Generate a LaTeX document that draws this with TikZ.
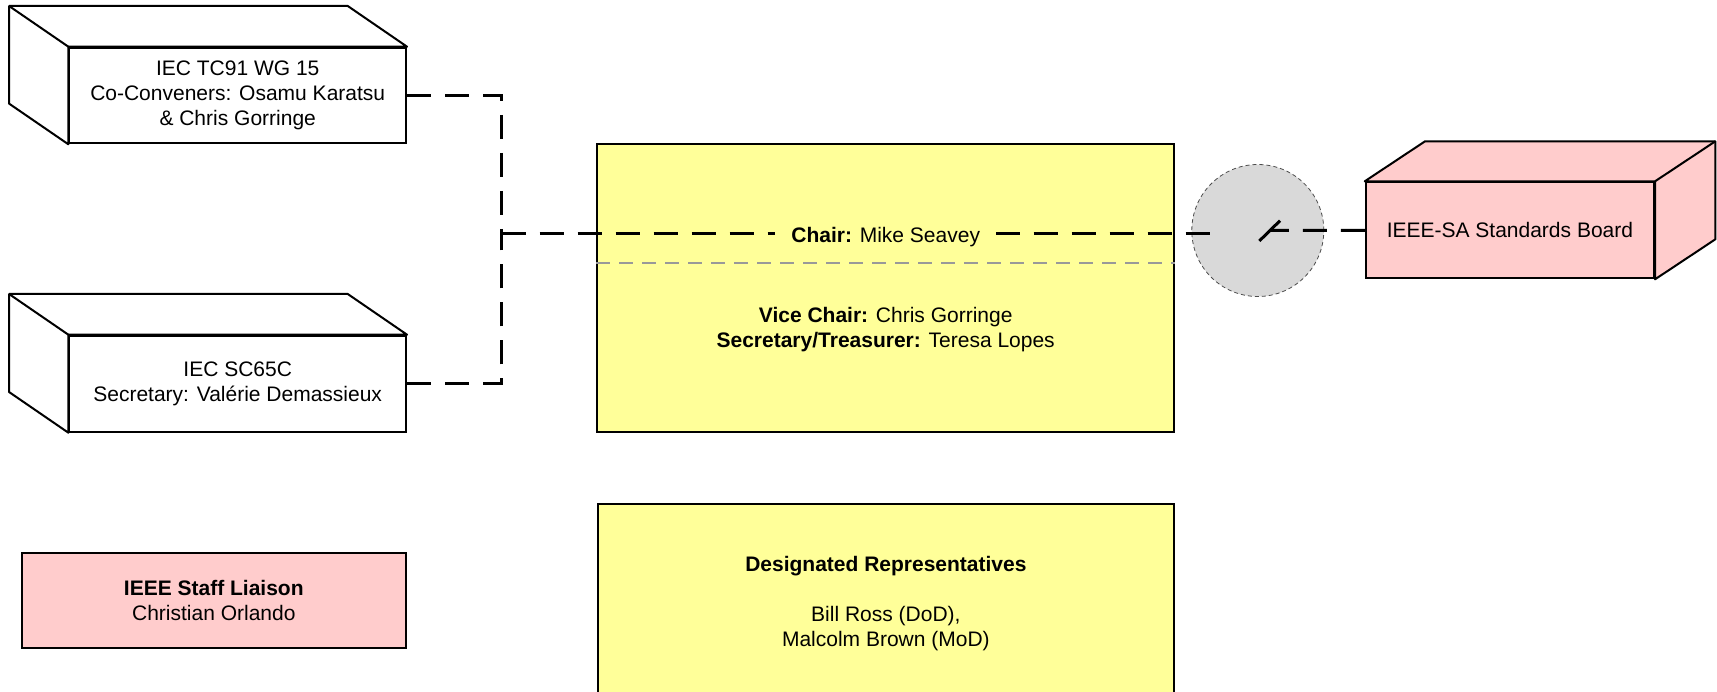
\documentclass[tikz,border=0pt]{standalone}
\usepackage{fontspec}
\setmainfont{Liberation Sans}
\usepackage{tikz}

\definecolor{chairyellow}{HTML}{FFFF99}
\definecolor{boardpink}{HTML}{FFCCCC}

\begin{document}
\begin{tikzpicture}[x=1pt,y=-1pt,
		font=\fontsize{21}{25}\selectfont,
		edgeline/.style={line width=2pt,line join=round},
		link/.style={line width=3pt,dash pattern=on 24pt off 14pt}]
	\useasboundingbox (0,0) rectangle (1717,692);
	\begin{scope}[every node/.style={rectangle,draw,line width=2pt,align=center,inner sep=0pt}]
		\node[fill=white,minimum width=336.7pt,minimum height=95.6pt] (tc91) at (237.7,95.5) {IEC TC91 WG 15\\Co-Conveners: Osamu Karatsu\\\& Chris Gorringe};
		\node[fill=white,minimum width=336.7pt,minimum height=96pt] (sc65) at (237.7,383.7) {IEC SC65C\\Secretary: Valérie Demassieux};
		\node[fill=boardpink,minimum width=384.3pt,minimum height=95.6pt] (staff) at (213.8,600.5) {\textbf{IEEE Staff Liaison}\\Christian Orlando};
		\node[fill=chairyellow,minimum width=576.7pt,minimum height=287.7pt] (chair) at (885.7,287.9) {};
		\node[fill=chairyellow,minimum width=576.2pt,minimum height=200pt] (reps) at (885.9,604) {\textbf{Designated Representatives}\\[25pt]Bill Ross (DoD),\\Malcolm Brown (MoD)};
		\node[fill=boardpink,minimum width=288.3pt,minimum height=96pt] (board) at (1509.9,230.3) {IEEE-SA Standards Board};
	\end{scope}
	\foreach \b in {tc91,sc65}{
		\draw[edgeline,fill=white] (\b.south west) -- ++(-59.3,-40.7) |- ([shift={(-59.3,-40.7)}]\b.north east) -- (\b.north east) -- (\b.north west) -- cycle;
		\draw[edgeline] (\b.north west) -- ++(-59.3,-40.7);
	}
	\draw[edgeline,fill=boardpink] (board.north west) -- ++(60.3,-40) -| ([shift={(60.3,-40)}]board.south east) -- (board.south east) -- (board.north east) -- cycle;
	\draw[edgeline] (board.north east) -- ++(60.3,-40);
	\node[circle,minimum size=132pt,inner sep=0pt,fill=gray!30,draw=gray!60!black,line width=0.8pt,dash pattern=on 4pt off 3pt] (sw) at (1257.8,230.5) {};
	\draw[gray!80,line width=1.2pt,dash pattern=on 14pt off 9pt] ([yshift=-120pt]chair.north west) -- ([yshift=-120pt]chair.north east);
	\node[align=center] (officers) at (885.7,330) {\textbf{Vice Chair:} Chris Gorringe\\\textbf{Secretary/Treasurer:} Teresa Lopes};
	\coordinate (jn) at (501.7,234);
	\coordinate (swin) at (1220,234);
	\coordinate (swout) at (1270,230.5);
	\draw[link] (tc91.east) -| (jn);
	\draw[link] (sc65.east) -| (jn);
	\draw[link] (jn) -- (swin);
	\draw[link] (board.west) -- (swout);
	\draw[line width=3pt] ([shift={(1.5,10.5)}]sw.center) -- ([shift={(22.2,-9.8)}]sw.center);
	\node[fill=chairyellow,inner xsep=16pt,inner ysep=4pt] (chairlbl) at (885.7,237) {\textbf{Chair:} Mike Seavey};
\end{tikzpicture}
\end{document}
